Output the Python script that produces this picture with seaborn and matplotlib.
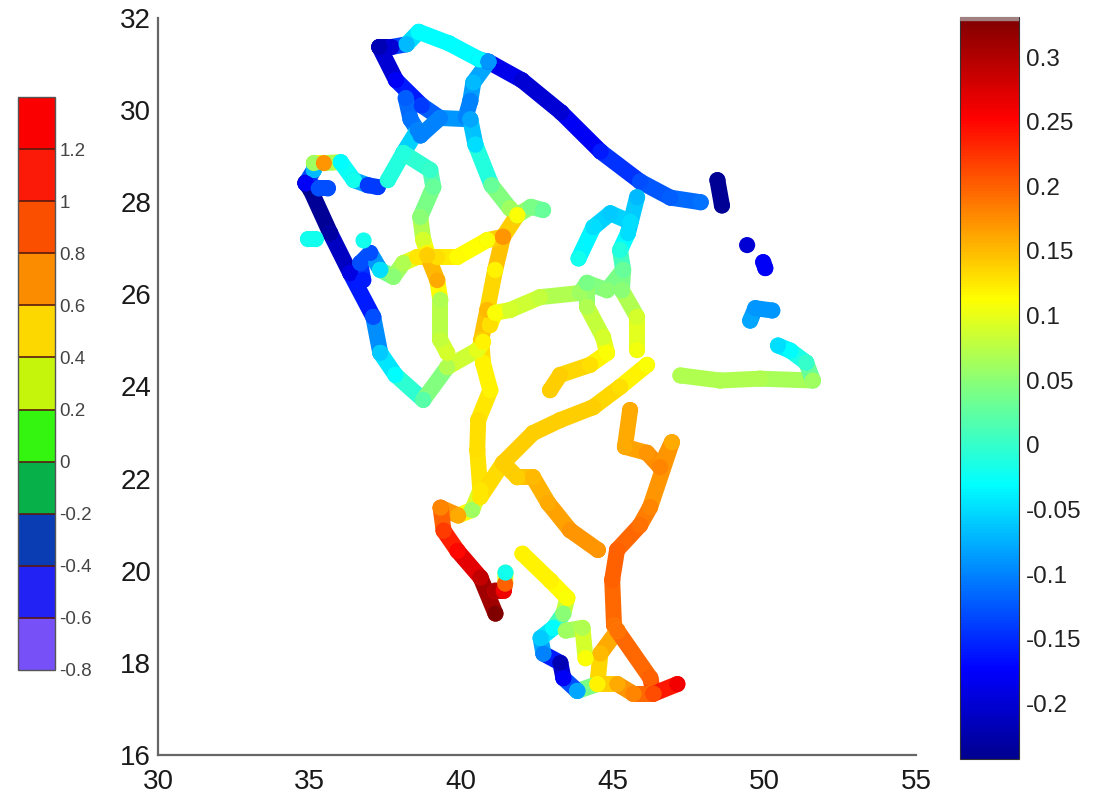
import matplotlib
matplotlib.use("Agg")
import matplotlib.pyplot as plt
import seaborn as sns
import pandas as pd
from matplotlib.collections import LineCollection
from matplotlib.colors import BoundaryNorm, LinearSegmentedColormap, ListedColormap, Normalize
from matplotlib.cm import ScalarMappable

# Valores: (lon, lat, valor)
gulf_coast = [(40.9, 31.05, -0.17), (42.0, 30.65, -0.2), (43.3, 29.95, -0.2), (44.6, 29.1, -0.16),
              (45.9, 28.45, -0.13), (46.9, 28.1, -0.12), (47.9, 28.0, -0.11)]
north_top = [(37.3, 31.37, -0.23), (37.7, 31.37, -0.2), (38.2, 31.43, -0.07), (38.6, 31.7, -0.03),
             (39.6, 31.45, -0.03), (40.6, 31.1, -0.03), (40.9, 31.05, -0.1)]
north_link = [(40.9, 31.05, -0.09), (40.4, 30.6, -0.07), (40.3, 30.2, -0.1), (40.15, 29.85, -0.1)]
north_west = [(37.3, 31.37, -0.22), (37.85, 30.65, -0.18), (38.7, 30.1, -0.14), (39.3, 29.83, -0.1),
              (40.3, 29.8, -0.08)]
north_loop = [(38.17, 30.26, -0.12), (38.33, 29.8, -0.11), (38.66, 29.45, -0.1), (39.3, 29.83, -0.1)]
hail_road = [(40.3, 29.8, -0.08), (40.47, 29.25, -0.05), (41.0, 28.37, 0.03), (41.6, 27.87, 0.06),
             (41.85, 27.72, 0.08)]
hail_branch = [(41.85, 27.72, 0.07), (42.3, 27.9, 0.04), (42.7, 27.83, 0.03)]
central_north = [(41.85, 27.72, 0.11), (41.38, 27.25, 0.17), (41.12, 26.53, 0.12), (40.86, 25.66, 0.15),
                 (40.66, 25.01, 0.14), (40.72, 24.51, 0.12), (40.96, 23.92, 0.12), (40.56, 23.27, 0.13),
                 (40.53, 22.62, 0.13), (40.63, 21.75, 0.125), (40.36, 21.32, 0.06)]
red_coast = [(40.36, 21.32, 0.06), (39.9, 21.2, 0.16), (39.32, 21.37, 0.18), (39.42, 20.87, 0.22),
             (39.88, 20.43, 0.25), (40.64, 19.85, 0.29), (41.13, 19.07, 0.33)]
red_branch = [(41.13, 19.57, 0.3), (41.4, 19.57, 0.26), (41.45, 19.72, 0.2), (41.46, 19.96, -0.02)]
west_coast = [(34.86, 28.42, -0.23), (35.03, 28.27, -0.245), (35.68, 27.33, -0.23), (36.34, 26.46, -0.19),
              (37.1, 25.51, -0.13), (37.33, 24.73, -0.06), (37.83, 24.25, -0.03), (38.75, 23.71, 0.02),
              (39.54, 24.42, 0.07), (40.53, 24.79, 0.1), (40.72, 24.97, 0.12)]
tabuk_road = [(34.87, 28.41, -0.2), (35.14, 28.7, -0.07), (35.14, 28.85, 0.06), (35.47, 28.85, 0.17),
              (36.03, 28.87, -0.03), (36.46, 28.48, -0.02), (36.92, 28.37, -0.14), (37.25, 28.33, -0.14)]
tabuk_spur = [(34.87, 28.41, -0.18), (35.3, 28.3, -0.13), (35.6, 28.3, -0.13)]
tabuk_east = [(37.58, 28.48, -0.01), (38.09, 29.07, -0.01), (38.56, 29.57, -0.1)]
central_west = [(38.09, 29.07, -0.01), (38.98, 28.7, 0.0), (39.08, 28.33, 0.03), (38.65, 27.68, 0.05),
                (38.75, 27.18, 0.09), (38.88, 26.9, 0.12)]
cross_road = [(37.33, 26.53, 0.02), (37.76, 26.38, 0.05), (38.09, 26.68, 0.07), (38.55, 26.81, 0.125),
              (39.21, 26.81, 0.13), (39.87, 26.81, 0.115), (40.86, 27.18, 0.11), (41.38, 27.25, 0.17)]
cross_west = [(36.77, 26.31, -0.16), (36.67, 26.68, -0.13), (37.0, 26.9, -0.13), (37.33, 26.53, -0.05)]
madinah_road = [(38.88, 26.85, 0.14), (39.21, 26.31, 0.16), (39.31, 25.88, 0.07), (39.31, 25.01, 0.08),
                (39.54, 24.73, 0.09)]
iso_west = [(34.95, 27.2, -0.02), (35.2, 27.2, -0.02)]
iso_mid = [(36.78, 27.17, -0.02)]
riyadh_road = [(40.95, 25.33, 0.13), (41.12, 25.6, 0.11), (41.61, 25.66, 0.09), (42.6, 25.94, 0.08),
               (43.92, 26.03, 0.06), (44.15, 26.25, 0.04), (44.81, 26.09, 0.05), (45.34, 26.53, 0.03)]
east_north = [(45.8, 28.11, -0.07), (45.5, 27.33, -0.05), (45.24, 26.96, -0.01), (45.34, 26.53, 0.03),
              (45.3, 26.09, 0.05)]
qassim_road = [(45.58, 27.57, -0.05), (44.92, 27.76, -0.06), (44.36, 27.46, -0.05), (43.87, 26.78, -0.02)]
qassim_south = [(44.15, 26.25, 0.04), (44.15, 25.73, 0.07), (44.68, 25.07, 0.09), (44.81, 24.73, 0.11),
                (44.25, 24.47, 0.13), (43.26, 24.25, 0.14), (42.93, 23.92, 0.14)]
east_spur = [(45.3, 26.09, 0.05), (45.8, 25.51, 0.09), (45.8, 24.79, 0.105)]
diagonal = [(46.13, 24.47, 0.11), (45.24, 23.99, 0.13), (44.35, 23.55, 0.14), (43.26, 23.27, 0.14),
            (42.37, 22.99, 0.14), (41.38, 22.34, 0.14), (40.63, 21.6, 0.125)]
south_branch = [(41.38, 22.34, 0.14), (41.85, 22.03, 0.14), (42.37, 22.03, 0.15), (42.87, 21.47, 0.16),
                (43.59, 20.88, 0.17), (44.51, 20.45, 0.17)]
east_loop = [(45.57, 23.49, 0.16), (45.4, 22.69, 0.16), (46.13, 22.56, 0.17), (46.56, 22.25, 0.18),
             (46.95, 22.79, 0.16), (46.23, 21.38, 0.18), (45.9, 20.99, 0.19), (45.14, 20.45, 0.2),
             (44.98, 19.8, 0.2), (45.04, 18.82, 0.19), (45.15, 18.7, 0.18)]
south_left = [(45.15, 18.7, 0.17), (44.59, 18.2, 0.15), (44.49, 17.54, 0.12)]
south_right = [(45.15, 18.7, 0.19), (46.24, 17.67, 0.2), (46.34, 17.33, 0.22), (47.13, 17.54, 0.26)]
south_bottom = [(46.34, 17.33, 0.21), (45.68, 17.33, 0.18), (45.15, 17.54, 0.16), (44.49, 17.54, 0.12),
                (43.83, 17.39, -0.04)]
asir_coast = [(43.83, 17.39, -0.08), (43.37, 17.67, -0.18), (43.27, 18.0, -0.22), (42.71, 18.2, -0.1),
              (42.62, 18.54, -0.06), (43.04, 18.76, -0.03), (43.37, 19.07, 0.05), (43.5, 19.41, 0.11),
              (42.95, 19.78, 0.12), (42.02, 20.37, 0.12)]
asir_spur = [(43.45, 18.7, 0.06), (44.0, 18.76, 0.07), (44.1, 18.1, 0.11)]
island_a = [(48.45, 28.48, -0.24), (48.6, 27.93, -0.24)]
island_b = [(49.43, 27.07, -0.2)]
island_c = [(49.96, 26.7, -0.18), (50.03, 26.57, -0.18)]
island_d = [(49.53, 25.43, -0.08), (49.7, 25.7, -0.09), (50.26, 25.65, -0.09)]
east_coast = [(47.23, 24.24, 0.07), (48.54, 24.13, 0.07), (49.86, 24.17, 0.07), (51.6, 24.13, 0.06),
              (51.38, 24.52, 0.0), (50.85, 24.78, -0.03), (50.45, 24.89, -0.05)]

tracks = [gulf_coast, north_top, north_link, north_west, north_loop, hail_road, hail_branch,
          central_north, red_coast, red_branch, west_coast, tabuk_road, tabuk_spur, tabuk_east,
          central_west, cross_road, cross_west, madinah_road, iso_west, iso_mid, riyadh_road,
          east_north, qassim_road, qassim_south, east_spur, diagonal, south_branch, east_loop,
          south_left, south_right, south_bottom, asir_coast, asir_spur, island_a, island_b,
          island_c, island_d, east_coast]

x_ticks = [30, 35, 40, 45, 50, 55]
y_ticks = [16, 18, 20, 22, 24, 26, 28, 30, 32]
right_ticks = [-0.2, -0.15, -0.1, -0.05, 0, 0.05, 0.1, 0.15, 0.2, 0.25, 0.3]
right_labels = ["-0.2", "-0.15", "-0.1", "-0.05", "0", "0.05", "0.1", "0.15", "0.2", "0.25", "0.3"]
left_bounds = [-0.8, -0.6, -0.4, -0.2, 0, 0.2, 0.4, 0.6, 0.8, 1, 1.2, 1.4]
left_labels = ["-0.8", "-0.6", "-0.4", "-0.2", "0", "0.2", "0.4", "0.6", "0.8", "1", "1.2", ""]
left_colors = ["#7750f8", "#2222f5", "#0a3cb4", "#08b04a", "#33f510", "#c4f50a", "#fdd800",
               "#fb8c00", "#fb4f00", "#fb1a08", "#fa0000"]

sns.set_theme(style="white")
plt.rcParams["font.family"] = ["Liberation Sans", "DejaVu Sans"]
W, H = 1099, 793
fig = plt.figure(figsize=(W / 100, H / 100), dpi=100)


def px_axes(left, top, right, bottom):
    return fig.add_axes([left / W, 1 - bottom / H, (right - left) / W, (bottom - top) / H])


ax = px_axes(158, 18, 916, 755)
norm = Normalize(vmin=-0.243, vmax=0.331)
# jet como el de MATLAB, el de matplotlib va un poco desplazado
jet = LinearSegmentedColormap.from_list("matlab_jet", [
    (0, "#000090"), (0.12, "#0000ff"), (0.37, "#00ffff"), (0.5, "#80ff80"),
    (0.62, "#ffff00"), (0.865, "#ff0000"), (1, "#800000")], N=256)

# Mapa principal: segmentos gruesos entre puntos leidos y los puntos encima
df = pd.concat([pd.DataFrame(t, columns=["lon", "lat", "val"]) for t in tracks], ignore_index=True)
for t in tracks:
    if len(t) < 2:
        continue
    segs = [[t[i][:2], t[i + 1][:2]] for i in range(len(t) - 1)]
    vals = [(t[i][2] + t[i + 1][2]) / 2 for i in range(len(t) - 1)]
    lc = LineCollection(segs, cmap=jet, norm=norm, linewidths=11.5, capstyle="round")
    lc.set_array(vals)
    ax.add_collection(lc)
sns.scatterplot(data=df, x="lon", y="lat", hue="val", palette=jet, hue_norm=norm,
                s=135, linewidth=0, legend=False, ax=ax, zorder=3)

ax.set_xlim(30, 55)
ax.set_ylim(16, 32)
ax.set_xticks(x_ticks)
ax.set_yticks(y_ticks)
ax.set_xlabel("")
ax.set_ylabel("")
ax.tick_params(direction="in", length=8, width=1.2, color="#444444", labelsize=20,
               labelcolor="#1a1a1a", pad=5)
ax.tick_params(axis="x", pad=10)
sns.despine(ax=ax)
for side in ["left", "bottom"]:
    ax.spines[side].set_color("#666666")
    ax.spines[side].set_linewidth(1.6)

# Barra de color derecha
cax_r = px_axes(960, 17, 1019, 759)
cb_r = fig.colorbar(ScalarMappable(norm=norm, cmap=jet), cax=cax_r)
cb_r.set_ticks(right_ticks, labels=right_labels)
cb_r.ax.tick_params(direction="in", length=6, width=0.8, color="#333333", labelsize=17.5,
                    labelcolor="#222222", pad=5, left=True, right=True)
cb_r.ax.axhspan(0.3285, 0.331, color="#a08080", zorder=5)
cb_r.outline.set_edgecolor("#333333")
cb_r.outline.set_linewidth(0.8)

# Barra de color izquierda (discreta)
cax_l = px_axes(18, 97, 55, 670)
left_norm = BoundaryNorm(left_bounds, len(left_colors))
cb_l = fig.colorbar(ScalarMappable(norm=left_norm, cmap=ListedColormap(left_colors)), cax=cax_l,
                    spacing="proportional", drawedges=True)
cb_l.set_ticks(left_bounds, labels=left_labels)
cb_l.ax.tick_params(length=0, labelsize=13.5, labelcolor="#444444", pad=3)
cb_l.dividers.set_color("#5a1a10")
cb_l.dividers.set_linewidth(1.2)
cb_l.outline.set_edgecolor("#555555")
cb_l.outline.set_linewidth(1.0)

fig.savefig("out.png", dpi=100)
